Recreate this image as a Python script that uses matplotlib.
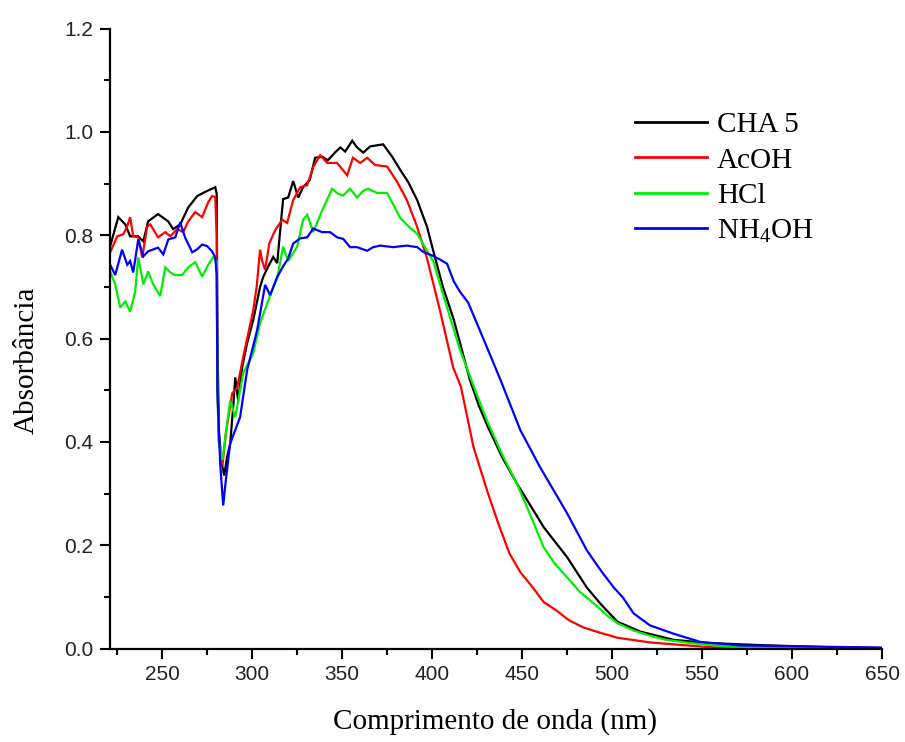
import matplotlib
matplotlib.use('Agg')
import matplotlib.pyplot as plt
from matplotlib.ticker import MultipleLocator, FormatStrFormatter
from matplotlib.font_manager import FontProperties

plt.rcParams['mathtext.fontset'] = 'custom'
plt.rcParams['mathtext.rm'] = 'Liberation Serif'
plt.rcParams['mathtext.it'] = 'Liberation Serif:italic'

labels = ['CHA 5', 'AcOH', 'HCl', 'NH$_4$OH']
colors = ['#000000', '#ff0000', '#00ee00', '#0000ff']

cha5_x = [221.1, 225.6, 229.5, 232.2, 236.7, 239.5, 242.2, 247.7, 253.3, 256.1, 260.0, 264.5, 269.5, 273.9,
          279.5, 280.3, 280.7, 281.5, 283.0, 284.5, 286.0, 287.8, 289.5, 290.6, 292.2, 294.5, 297.2, 300.6,
          304.4, 306.1, 309.0, 311.7, 313.9, 315.6, 317.2, 320.0, 322.8, 325.6, 328.3, 332.0, 335.0, 339.0,
          342.0, 346.0, 349.0, 351.7, 355.6, 358.3, 361.7, 365.6, 372.8, 377.8, 382.2, 386.7, 391.7, 397.2,
          401.0, 406.0, 412.0, 421.0, 426.0, 431.0, 439.0, 447.0, 455.0, 462.0, 475.0, 486.0, 494.0, 503.0,
          515.6, 534.0, 552.8, 580.6, 617.0, 650.0]
cha5_y = [0.779, 0.835, 0.821, 0.798, 0.798, 0.788, 0.827, 0.841, 0.827, 0.812, 0.821, 0.854, 0.876, 0.884,
          0.893, 0.880, 0.600, 0.420, 0.360, 0.335, 0.370, 0.397, 0.470, 0.525, 0.480, 0.545, 0.591, 0.636,
          0.700, 0.719, 0.740, 0.758, 0.746, 0.810, 0.870, 0.873, 0.905, 0.873, 0.893, 0.907, 0.950, 0.952,
          0.945, 0.960, 0.970, 0.962, 0.983, 0.970, 0.960, 0.972, 0.976, 0.952, 0.927, 0.903, 0.868, 0.816,
          0.765, 0.700, 0.637, 0.520, 0.470, 0.429, 0.370, 0.320, 0.275, 0.235, 0.177, 0.118, 0.085, 0.052,
          0.033, 0.017, 0.011, 0.007, 0.003, 0.001]

acoh_x = [221.1, 225.0, 228.4, 230.5, 232.2, 233.9, 236.7, 238.9, 241.7, 243.4, 247.7, 251.7, 254.5, 258.4,
          261.7, 264.5, 268.4, 272.2, 275.6, 277.7, 279.5, 280.3, 280.7, 281.5, 283.5, 285.5, 288.9, 291.7,
          295.0, 300.6, 302.5, 304.4, 305.6, 307.2, 309.5, 312.8, 316.7, 319.4, 322.8, 326.7, 330.6, 333.9,
          337.8, 341.7, 347.2, 352.8, 356.0, 360.0, 363.9, 368.3, 375.0, 380.6, 386.0, 391.7, 397.2, 404.4,
          411.7, 416.0, 423.0, 431.0, 437.0, 443.0, 449.0, 456.0, 462.0, 469.0, 476.0, 484.0, 494.0, 503.0,
          521.0, 535.0, 553.0, 570.0, 650.0]
acoh_y = [0.767, 0.798, 0.802, 0.817, 0.835, 0.798, 0.796, 0.757, 0.817, 0.821, 0.796, 0.806, 0.798, 0.812,
          0.806, 0.827, 0.845, 0.835, 0.864, 0.876, 0.874, 0.800, 0.500, 0.400, 0.355, 0.420, 0.494, 0.506,
          0.564, 0.655, 0.700, 0.772, 0.750, 0.733, 0.784, 0.810, 0.830, 0.824, 0.868, 0.893, 0.897, 0.932,
          0.955, 0.940, 0.940, 0.916, 0.950, 0.940, 0.950, 0.936, 0.933, 0.903, 0.868, 0.816, 0.755, 0.654,
          0.544, 0.507, 0.390, 0.301, 0.240, 0.184, 0.148, 0.118, 0.090, 0.074, 0.055, 0.041, 0.030, 0.021,
          0.012, 0.008, 0.003, 0.001, 0.000]

hcl_x = [221.1, 223.9, 226.7, 229.5, 232.2, 235.0, 236.7, 239.5, 242.2, 245.0, 248.9, 251.7, 254.5, 257.0,
         261.1, 264.5, 268.4, 272.2, 275.6, 278.4, 280.3, 280.7, 281.5, 283.5, 285.5, 287.8, 290.6, 295.0,
         300.6, 304.4, 308.6, 311.7, 314.0, 317.2, 320.0, 325.0, 328.3, 330.6, 333.9, 338.9, 344.4, 347.8,
         350.6, 354.4, 358.3, 361.7, 364.4, 369.4, 375.0, 378.3, 382.2, 387.8, 391.7, 395.0, 400.6, 408.3,
         415.6, 419.0, 425.0, 431.0, 439.0, 447.0, 455.0, 462.0, 468.0, 475.0, 482.0, 490.0, 497.0, 503.0,
         512.0, 521.0, 530.0, 543.0, 567.0, 600.0, 650.0]
hcl_y = [0.730, 0.705, 0.660, 0.672, 0.652, 0.691, 0.757, 0.705, 0.730, 0.705, 0.682, 0.738, 0.728, 0.723,
         0.723, 0.738, 0.748, 0.720, 0.743, 0.758, 0.749, 0.500, 0.400, 0.365, 0.420, 0.480, 0.448, 0.533,
         0.572, 0.630, 0.670, 0.700, 0.719, 0.778, 0.750, 0.778, 0.830, 0.840, 0.806, 0.848, 0.890, 0.880,
         0.877, 0.890, 0.873, 0.886, 0.890, 0.882, 0.882, 0.860, 0.834, 0.814, 0.803, 0.783, 0.750, 0.660,
         0.577, 0.546, 0.490, 0.437, 0.375, 0.320, 0.255, 0.196, 0.165, 0.138, 0.110, 0.087, 0.065, 0.049,
         0.035, 0.025, 0.017, 0.011, 0.003, 0.001, 0.000]

nh4oh_x = [221.1, 223.9, 227.7, 230.6, 232.2, 233.9, 236.7, 239.5, 242.2, 247.7, 250.6, 253.4, 257.3, 260.0,
           262.7, 266.7, 269.5, 272.2, 275.0, 277.7, 279.5, 280.3, 280.7, 282.2, 283.9, 285.5, 287.8, 293.3,
           297.2, 302.8, 307.2, 310.0, 313.9, 317.2, 320.0, 322.8, 326.7, 330.6, 333.9, 338.9, 343.3, 347.2,
           350.6, 354.4, 358.3, 363.9, 367.2, 371.1, 378.3, 386.0, 391.7, 395.0, 400.6, 404.4, 408.3, 412.0,
           415.6, 420.0, 427.0, 438.0, 449.0, 460.0, 475.0, 486.0, 494.0, 501.0, 506.0, 512.0, 521.0, 534.0,
           549.0, 571.0, 650.0]
nh4oh_y = [0.743, 0.723, 0.772, 0.743, 0.750, 0.728, 0.792, 0.759, 0.769, 0.776, 0.763, 0.792, 0.796, 0.825,
           0.796, 0.767, 0.773, 0.782, 0.779, 0.769, 0.757, 0.723, 0.500, 0.359, 0.277, 0.330, 0.397, 0.448,
           0.539, 0.617, 0.704, 0.684, 0.719, 0.740, 0.755, 0.784, 0.794, 0.796, 0.813, 0.806, 0.806, 0.796,
           0.793, 0.777, 0.777, 0.770, 0.777, 0.780, 0.777, 0.780, 0.777, 0.768, 0.760, 0.753, 0.745, 0.711,
           0.690, 0.670, 0.612, 0.520, 0.423, 0.351, 0.262, 0.190, 0.150, 0.118, 0.099, 0.068, 0.045, 0.029,
           0.013, 0.006, 0.002]

xs = [cha5_x, acoh_x, hcl_x, nh4oh_x]
ys = [cha5_y, acoh_y, hcl_y, nh4oh_y]

x_ticks = [250, 300, 350, 400, 450, 500, 550, 600, 650]
y_ticks = [0.0, 0.2, 0.4, 0.6, 0.8, 1.0, 1.2]

W, H = 905, 742
fig = plt.figure(figsize=(W / 100, H / 100), dpi=100)
ax = fig.add_axes([110 / W, 1 - 648.6 / H, 772 / W, 620 / H])

handles = []
for x, y, c, lab in zip(xs, ys, colors, labels):
    h, = ax.plot(x, y, color=c, lw=1.6, label=lab, solid_joinstyle='miter')
    handles.append(h)

ax.set_xlim(221, 650)
ax.set_ylim(0.0, 1.2)
ax.set_xticks(x_ticks)
ax.set_yticks(y_ticks)
ax.xaxis.set_minor_locator(MultipleLocator(25))
ax.yaxis.set_minor_locator(MultipleLocator(0.1))
ax.yaxis.set_major_formatter(FormatStrFormatter('%.1f'))

for s in ['top', 'right']:
    ax.spines[s].set_visible(False)
for s in ['left', 'bottom']:
    ax.spines[s].set_linewidth(1.6)

tick_font = ['Liberation Sans Narrow', 'Liberation Sans']
ax.tick_params(which='major', direction='out', length=7, width=1.5, labelsize=15, pad=5)
ax.tick_params(which='minor', direction='out', length=4, width=1.5)
for lab in ax.get_xticklabels() + ax.get_yticklabels():
    lab.set_family(tick_font)
    lab.set_color('#222222')

fig.text(27 / W, 1 - 360 / H, 'Absorbância', rotation=90, ha='center', va='center',
         family='Liberation Serif', fontsize=21)
fig.text(495 / W, 1 - 722 / H, 'Comprimento de onda (nm)', ha='center', va='center',
         family='Liberation Serif', fontsize=21)

leg = ax.legend(handles=handles, loc='upper left', bbox_to_anchor=(635 / W, 1 - 112 / H),
                bbox_transform=fig.transFigure, frameon=False,
                prop=FontProperties(family='Liberation Serif', size=21),
                handlelength=2.47, handletextpad=0.34, labelspacing=0.3,
                borderpad=0, borderaxespad=0)
for lh in leg.get_lines():
    lh.set_linewidth(2)

fig.savefig('out.png', dpi=100)
